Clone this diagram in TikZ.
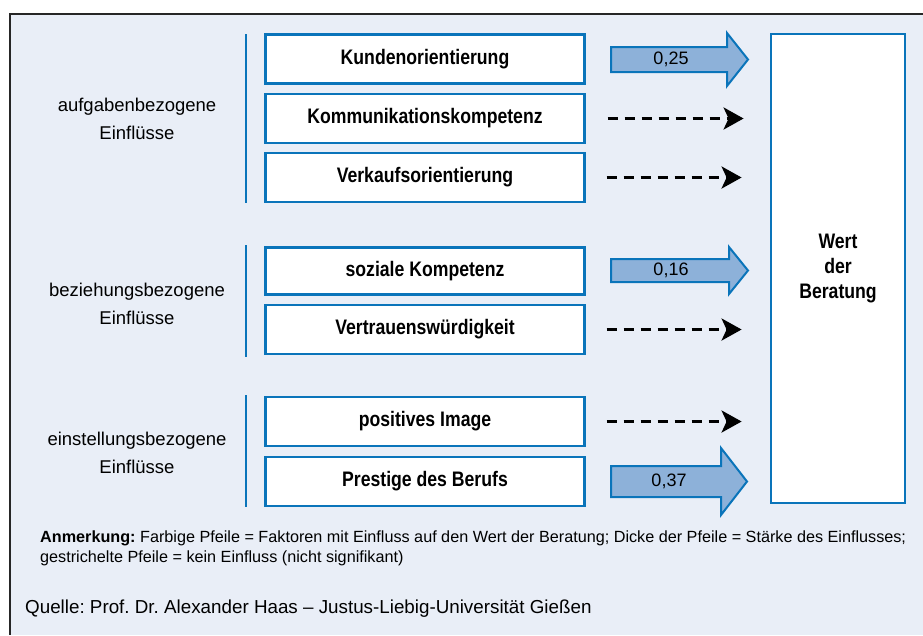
\documentclass[tikz,border=0pt]{standalone}
\usepackage{fontspec}
\setmainfont{Liberation Sans}
\newfontfamily\boxfont{Liberation Sans}[FakeStretch=0.84]
\usetikzlibrary{arrows.meta}
\definecolor{panelbg}{RGB}{233,238,247}
\definecolor{linieblau}{RGB}{10,116,186}
\definecolor{pfeilblau}{RGB}{141,177,217}
\frenchspacing

\begin{document}
\begin{tikzpicture}
    [x=1pt,y=-1pt,
    faktor/.style = {draw=linieblau,line width=2.2pt,fill=white,minimum width=319pt,minimum height=49pt,inner sep=0pt,font=\boxfont\bfseries\fontsize{21}{25}\selectfont},
    gruppe/.style = {align=center,font=\fontsize{18.5}{28}\selectfont},
    gruppenlinie/.style = {draw=linieblau,line width=2.6pt},
    wirkung/.style = {draw=linieblau,line width=2pt,fill=pfeilblau},
    wert/.style = {font=\fontsize{18}{20}\selectfont},
    keinewirkung/.style = {line width=3pt,dash pattern=on 10pt off 7pt,-{Stealth[length=20pt,width=22pt,inset=5pt]}}
    ]
\useasboundingbox (0,0) rectangle (923,635);
\fill[white] (0,0) rectangle (923,635);
\fill[panelbg] (10,14) rectangle (923,635);
\draw[line width=1.3pt,black!85] (923,14) -- (10,14) -- (10,635);

% Einflussgruppen
\node[gruppe] (aufgaben) at (137,119) {aufgabenbezogene\\Einflüsse};
\node[gruppe] (beziehung) at (137,304) {beziehungsbezogene\\Einflüsse};
\node[gruppe] (einstellung) at (137,452.5) {einstellungsbezogene\\Einflüsse};

\draw[gruppenlinie] (246,34) -- (246,203);
\draw[gruppenlinie] (246,245) -- (246,357);
\draw[gruppenlinie] (246,395) -- (246,507);

% Faktoren
\node[faktor] (kunden) at (425,59) {Kundenorientierung};
\node[faktor] (kommunikation) at (425,118.5) {Kommunikationskompetenz};
\node[faktor] (verkauf) at (425,177.5) {Verkaufsorientierung};
\node[faktor,minimum height=47pt] (sozial) at (425,271) {soziale Kompetenz};
\node[faktor] (vertrauen) at (425,329.5) {Vertrauenswürdigkeit};
\node[faktor] (image) at (425,421.5) {positives Image};
\node[faktor] (prestige) at (425,481.5) {Prestige des Berufs};

\node[faktor,minimum width=134pt,minimum height=469pt,align=center] (beratung) at (838,268.5) {Wert\\der\\Beratung};

% signifikante Einfluesse
\draw[wirkung] (611,47) -- (727,47) -- (727,33) -- (748,59.5) -- (727,86) -- (727,72) -- (611,72) -- cycle;
\node[wert] (w1) at (671,59.5) {0,25};
\draw[wirkung] (611,259) -- (729,259) -- (729,247) -- (748,270.5) -- (729,294) -- (729,282) -- (611,282) -- cycle;
\node[wert] (w2) at (671,270.5) {0,16};
\draw[wirkung] (611,466) -- (721,466) -- (721,448) -- (747,481.5) -- (721,515) -- (721,497) -- (611,497) -- cycle;
\node[wert] (w3) at (669,481.5) {0,37};

% nicht signifikant
\draw[keinewirkung] ([xshift=22pt]kommunikation.east) -- ++(136,0);
\draw[keinewirkung] ([xshift=21pt]verkauf.east) -- ++(135,0);
\draw[keinewirkung] ([xshift=21pt]vertrauen.east) -- ++(135,0);
\draw[keinewirkung] ([xshift=21pt]image.east) -- ++(135,0);

\node[anchor=base west,inner sep=0pt,font=\fontsize{16.2}{20}\selectfont] (anm1) at (40,542) {\textbf{Anmerkung:} Farbige Pfeile = Faktoren mit Einfluss auf den Wert der Beratung; Dicke der Pfeile = Stärke des Einflusses;};
\node[anchor=base west,inner sep=0pt,font=\fontsize{16.2}{20}\selectfont] (anm2) at (40,562) {gestrichelte Pfeile = kein Einfluss (nicht signifikant)};
\node[anchor=base west,inner sep=0pt,font=\fontsize{18.8}{20}\selectfont] (quelle) at (25,613) {Quelle: Prof. Dr. Alexander Haas -- Justus-Liebig-Universität Gießen};

\end{tikzpicture}
\end{document}
